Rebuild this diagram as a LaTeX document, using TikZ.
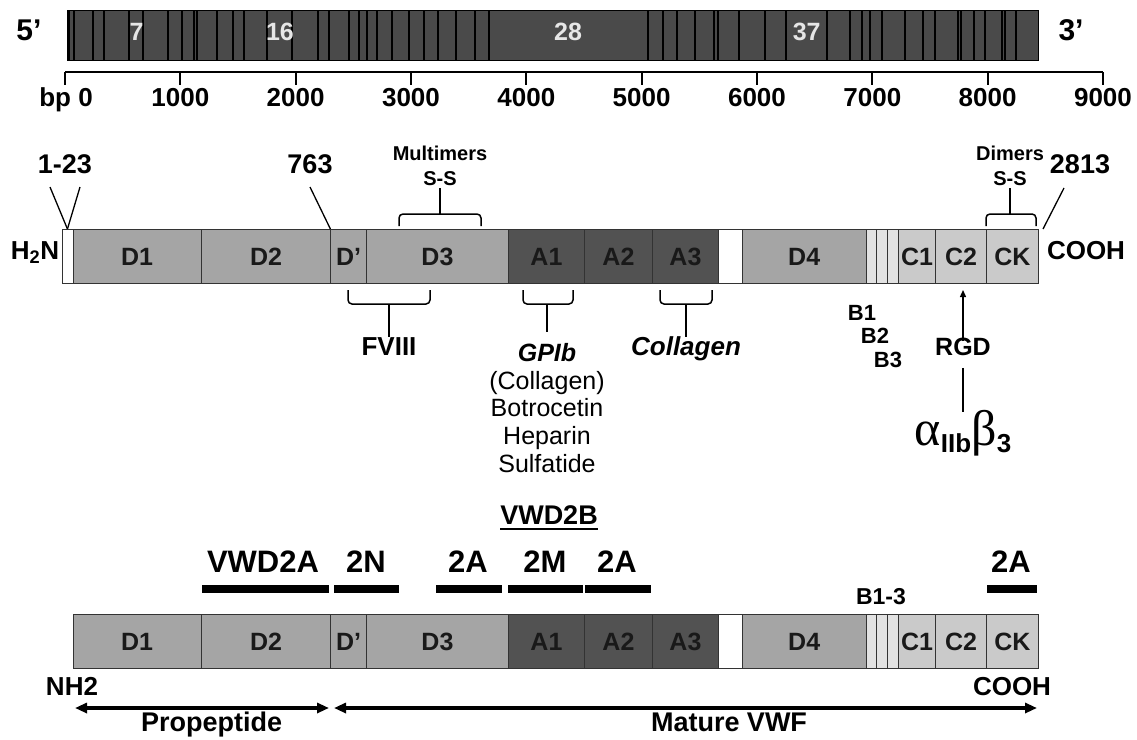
\documentclass[tikz,border=0pt]{standalone}
\usepackage{fontspec}
\setmainfont{Liberation Sans}
\newfontfamily\greekfont{Liberation Serif}
\usetikzlibrary{arrows.meta}
\definecolor{genegrey}{HTML}{4A4A4A}
\definecolor{dgrey}{HTML}{A5A5A5}
\definecolor{agrey}{HTML}{525252}
\definecolor{cgrey}{HTML}{CACACA}
\definecolor{bgrey}{HTML}{E2E2E2}
\definecolor{edgegrey}{HTML}{333333}
\definecolor{exlabel}{HTML}{E6E6E6}
\newcommand\vwfdom[6]{\pgfmathsetmacro\vwfw{#3-#2}\node[dombox, fill=#5, minimum width=\vwfw pt] (#1) at (#2,#4) {#6};}
\begin{document}
\begin{tikzpicture}[x=1pt,y=-1pt,
  lab/.style={inner sep=0pt, text height=0.716em, text depth=0pt, font=\fontsize{#1}{#1}\selectfont\bfseries},
  lab/.default=23,
  labi/.style={inner sep=0pt, text height=0.716em, text depth=0pt, font=\fontsize{#1}{#1}\selectfont\bfseries\itshape},
  dombox/.style={draw=edgegrey, line width=0.9pt, inner sep=0pt, minimum height=54pt, anchor=north west, font=\fontsize{25}{25}\selectfont\bfseries, text=black!90},
  exon/.style={line width=1.9pt, black},
  brace/.style={line width=1.5pt, rounded corners=4pt},
  conn/.style={line width=1.3pt},
  mutbar/.style={line width=7.5pt},
  span/.style={line width=3.2pt, {Triangle[length=12pt,width=10pt]}-{Triangle[length=12pt,width=10pt]}},
]
\useasboundingbox (0,0) rectangle (1137,739);
\fill[white] (0,0) rectangle (1137,739);

% ---------------- gene ----------------
\node[draw=black, line width=1pt, fill=genegrey, minimum width=971pt, minimum height=50pt, anchor=north west, inner sep=0pt] (gene) at (66.5,10) {};
\foreach \x in {69,74,93.3,104.3,129,142.7,168.3,181.7,194,197.3,216.7,232.7,244.3,266.7,291.7,318.3,329.3,348.7,359,366.7,376.7,391.7,409,424.3,437.7,456,475,489.3,648.3,662.7,676.7,695,714,718.3,739,765,786,826.7,850,861.7,870,881.7,905,922.7,935,958.3,960.7,974,985,1001.7,1005,1016}
  \draw[exon] (\x,10.5) -- (\x,59.5);
\node[lab=25, text=exlabel] (ex7) at (136.7,37) {7};
\node[lab=25, text=exlabel] (ex16) at (280,37) {16};
\node[lab=25, text=exlabel] (ex28) at (568,37) {28};
\node[lab=25, text=exlabel] (ex37) at (806.7,37) {37};
\node[lab=30] (five) at (29,37) {5’};
\node[lab=30] (three) at (1071,37) {3’};

% axis
\draw[line width=1.7pt] (65,72) -- (1103,72);
\foreach \i in {0,...,9} \draw[line width=1.7pt] ({65+115.33*\i},72) -- ++(0,13);
\node[lab=26] (bp0) at (66,103) {bp 0};
\foreach \i/\t in {1/1000,2/2000,3/3000,4/4000,5/5000,6/6000,7/7000,8/8000,9/9000}
  \node[lab=26] (tk\i) at ({65+115.33*\i},103) {\t};

% ---------------- protein (middle) ----------------
\vwfdom{sp}{61.5}{72.5}{229}{white}{}
\vwfdom{mD1}{72.5}{200.7}{229}{dgrey}{D1}
\vwfdom{mD2}{200.7}{330.4}{229}{dgrey}{D2}
\vwfdom{mDp}{330.4}{366}{229}{dgrey}{D’}
\vwfdom{mD3}{366}{508}{229}{dgrey}{D3}
\vwfdom{mA1}{508}{584}{229}{agrey}{A1}
\vwfdom{mA2}{584}{652}{229}{agrey}{A2}
\vwfdom{mA3}{652}{718}{229}{agrey}{A3}
\vwfdom{mW}{718}{742}{229}{white}{}
\vwfdom{mD4}{742}{865.5}{229}{dgrey}{D4}
\vwfdom{mB1}{865.5}{876}{229}{bgrey}{}
\vwfdom{mB2}{876}{887}{229}{bgrey}{}
\vwfdom{mB3}{887}{898}{229}{bgrey}{}
\vwfdom{mC1}{898}{935.4}{229}{cgrey}{C1}
\vwfdom{mC2}{935.4}{985.8}{229}{cgrey}{C2}
\vwfdom{mCK}{985.8}{1038}{229}{cgrey}{CK}

\node[lab=26] (h2n) at (35,256) {H\textsubscript{2}N};
\node[lab=26] (cooh) at (1086,256) {COOH};

% top labels
\node[lab=27] (l123) at (65,170) {1-23};
\coordinate (v1) at (50,187);
\coordinate (v2) at (80,187);
\draw[conn] (v1) -- (sp.north);
\draw[conn] (v2) -- (sp.north);
\node[lab=27] (l763) at (310,170) {763};
\coordinate (c763) at (310,187);
\draw[conn] (c763) -- (mDp.north west);
\node[lab=27] (l2813) at (1080,170) {2813};
\coordinate (c2813a) at (1064,188);
\coordinate (c2813b) at (1043,229);
\draw[conn] (c2813a) -- (c2813b);

\node[lab=20] (mult) at (440,157) {Multimers};
\node[lab=20] (ss1) at (440,182) {S-S};
\draw[brace] (399,226) -- (399,214) -- (481,214) -- (481,226);
\coordinate (mbr) at (440,214);
\draw[conn] (mbr) -- ([yshift=-2pt]ss1.south);

\node[lab=20] (dim) at (1010,157) {Dimers};
\node[lab=20] (ss2) at (1010,182) {S-S};
\draw[brace] (986,226) -- (986,214) -- (1036,214) -- (1036,226);
\coordinate (dbr) at (1010,214);
\draw[conn] (dbr) -- ([yshift=-2pt]ss2.south);

% bottom labels of middle bar
\draw[brace] (348,290) -- (348,304) -- (430,304) -- (430,290);
\draw[brace] (523,290) -- (523,304) -- (573,304) -- (573,290);
\draw[brace] (660,290) -- (660,304) -- (712,304) -- (712,290);
\coordinate (fbr) at (389,304);
\coordinate (gbr) at (547,304);
\coordinate (cbr) at (686,304);
\node[lab=26] (fviii) at (389,352) {FVIII};
\node[align=center, inner sep=0pt, anchor=north, font=\fontsize{25}{27.7}\selectfont] (gp) at (547,343) {\textbf{\textit{GPIb}}\\(Collagen)\\Botrocetin\\Heparin\\Sulfatide};
\node[labi=26] (coll) at (686,352) {Collagen};
\draw[conn] (fbr) -- ([yshift=11pt]fviii.north);
\draw[conn] (gbr) -- ([yshift=11pt]gp.north);
\draw[conn] (cbr) -- ([yshift=11pt]coll.north);

\node[lab=22] (b1) at (862,317) {B1};
\node[lab=22] (b2) at (875,340) {B2};
\node[lab=22] (b3) at (888,364) {B3};

\node[lab=25] (rgd) at (963,352) {RGD};
\coordinate (rgdtip) at (963,290);
\draw[conn, -{Triangle[length=7pt,width=6pt]}] ([yshift=7pt]rgd.north) -- (rgdtip);
\node[inner sep=0pt, anchor=base] (ab) at (963,445) {{\greekfont\fontsize{50}{50}\selectfont α}\raisebox{-7pt}{\fontsize{26}{26}\selectfont\bfseries IIb}{\greekfont\fontsize{50}{50}\selectfont β}\raisebox{-7pt}{\fontsize{26}{26}\selectfont\bfseries 3}};
\coordinate (abtop) at (963,412);
\draw[conn] ([yshift=-12pt]rgd.south) -- (abtop);

% ---------------- protein (bottom) ----------------
\vwfdom{bD1}{72.5}{200.7}{614}{dgrey}{D1}
\vwfdom{bD2}{200.7}{330.4}{614}{dgrey}{D2}
\vwfdom{bDp}{330.4}{366}{614}{dgrey}{D’}
\vwfdom{bD3}{366}{508}{614}{dgrey}{D3}
\vwfdom{bA1}{508}{584}{614}{agrey}{A1}
\vwfdom{bA2}{584}{652}{614}{agrey}{A2}
\vwfdom{bA3}{652}{718}{614}{agrey}{A3}
\vwfdom{bW}{718}{742}{614}{white}{}
\vwfdom{bD4}{742}{865.5}{614}{dgrey}{D4}
\vwfdom{bB1}{865.5}{876}{614}{bgrey}{}
\vwfdom{bB2}{876}{887}{614}{bgrey}{}
\vwfdom{bB3}{887}{898}{614}{bgrey}{}
\vwfdom{bC1}{898}{935.4}{614}{cgrey}{C1}
\vwfdom{bC2}{935.4}{985.8}{614}{cgrey}{C2}
\vwfdom{bCK}{985.8}{1038}{614}{cgrey}{CK}

\node[lab=27] (v2b) at (549,521) {VWD2B};
\draw[line width=1.5pt] ([yshift=-4pt]v2b.south west) -- ([yshift=-4pt]v2b.south east);

\node[lab=31] (v2a) at (263,569) {VWD2A};
\node[lab=31] (m2n) at (366,569) {2N};
\node[lab=31] (m2a1) at (468,569) {2A};
\node[lab=31] (m2m) at (545,569) {2M};
\node[lab=31] (m2a2) at (617,569) {2A};
\node[lab=31] (m2a3) at (1011,569) {2A};
\draw[mutbar] (202,589) -- (329,589);
\draw[mutbar] (334,589) -- (399,589);
\draw[mutbar] (436,589) -- (502,589);
\draw[mutbar] (508,589) -- (583,589);
\draw[mutbar] (585,589) -- (651,589);
\draw[mutbar] (987,589) -- (1037,589);

\node[lab=23] (b13) at (881,601) {B1-3};

\node[lab=26] (nh2) at (72,692) {NH2};
\node[lab=26] (cooh2) at (1012,692) {COOH};
\coordinate (pl) at (75,708);
\coordinate (pr) at (329,708);
\coordinate (ml) at (334,708);
\coordinate (mr) at (1037,708);
\draw[span] (pl) -- (pr);
\draw[span] (ml) -- (mr);
\node[lab=27] (prop) at (211.6,728) {Propeptide};
\node[lab=27] (mat) at (729,728) {Mature VWF};
\end{tikzpicture}
\end{document}
